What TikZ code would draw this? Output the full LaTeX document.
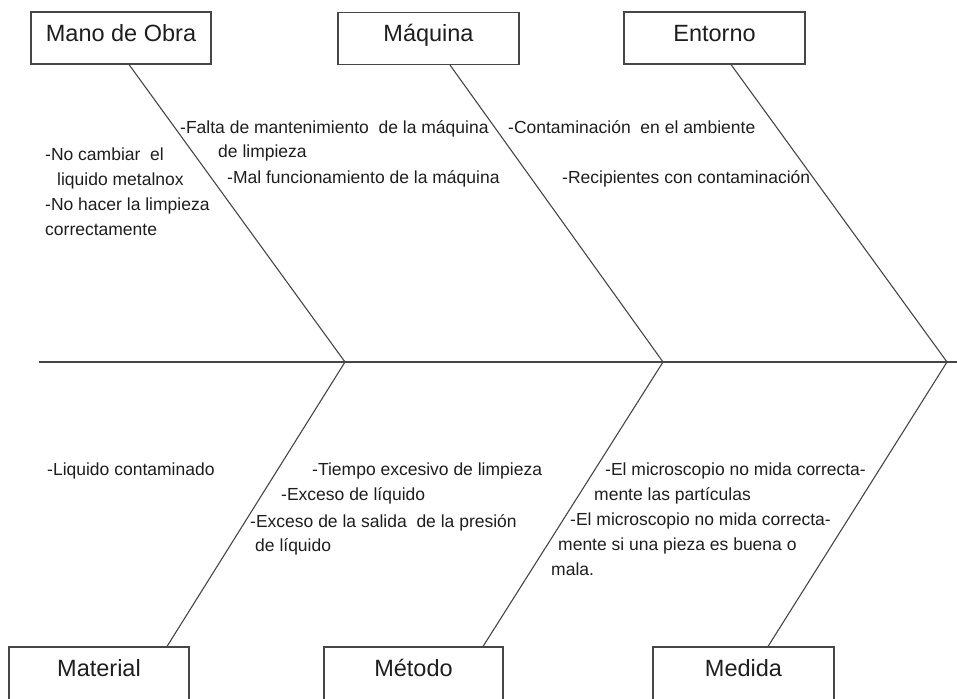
\documentclass[tikz,border=0pt]{standalone}
\usepackage{fontspec}
\setmainfont{Liberation Sans}
\usepackage{xcolor}
\definecolor{lineColor}{RGB}{70, 70, 70}
\definecolor{textColor}{RGB}{30, 30, 30}

\begin{document}
\begin{tikzpicture}[x=1pt, y=-1pt,
    categoria/.style={draw=lineColor, line width=1.1pt, minimum width=180pt, minimum height=52pt,
        inner sep=0pt, text height=17pt, text depth=10pt, text=textColor,
        font=\fontsize{23.5}{28}\selectfont},
    categoriaInf/.style={categoria, minimum height=70pt, text depth=28pt},
    causa/.style={anchor=base west, inner sep=0pt, text=textColor, font=\fontsize{17.5}{21}\selectfont},
    espina/.style={draw=lineColor, line width=1.1pt}]
    \clip (0,0) rectangle (957,698);

    % Spine and joints
    \coordinate (cola) at (39,362);
    \coordinate (cabeza) at (957,362);
    \coordinate (J1) at (345,362);
    \coordinate (J2) at (663,362);
    \coordinate (J3) at (947,362);
    \draw[espina] (cola) -- (cabeza);

    % Categories (bottom ones run off the page)
    \node[categoria] (mano) at (121,38) {Mano de Obra};
    \node[categoria, minimum width=181pt] (maquina) at (428.5,38.5) {Máquina};
    \node[categoria, minimum width=181pt] (entorno) at (714.5,38) {Entorno};
    \node[categoriaInf] (material) at (99,682) {Material};
    \node[categoriaInf, minimum width=179pt] (metodo) at (413.5,682) {Método};
    \node[categoriaInf, minimum width=181pt] (medida) at (743.5,682) {Medida};

    % Bones
    \draw[espina] ([xshift=8pt]mano.south) -- (J1);
    \draw[espina] ([xshift=21.5pt]maquina.south) -- (J2);
    \draw[espina] ([xshift=16.5pt]entorno.south) -- (J3);
    \draw[espina] ([xshift=68pt]material.north) -- (J1);
    \draw[espina] ([xshift=69.5pt]metodo.north) -- (J2);
    \draw[espina] ([xshift=24.5pt]medida.north) -- (J3);

    % Causes: Mano de Obra
    \node[causa] (mo1) at (45,160) {-No cambiar\ \ el};
    \node[causa] (mo2) at (57,185) {liquido metalnox};
    \node[causa] (mo3) at (45,210) {-No hacer la limpieza};
    \node[causa] (mo4) at (45,235) {correctamente};

    % Causes: Maquina
    \node[causa] (mq1) at (180,133) {-Falta de mantenimiento\ \ de la máquina};
    \node[causa] (mq2) at (218,157) {de limpieza};
    \node[causa] (mq3) at (227,183) {-Mal funcionamiento de la máquina};

    % Causes: Entorno
    \node[causa] (en1) at (508,133) {-Contaminación\ \ en el ambiente};
    \node[causa] (en2) at (562,183) {-Recipientes con contaminación};

    % Causes: Material
    \node[causa] (ma1) at (47,475) {-Liquido contaminado};

    % Causes: Metodo
    \node[causa] (me1) at (312,475) {-Tiempo excesivo de limpieza};
    \node[causa] (me2) at (281,500) {-Exceso de líquido};
    \node[causa] (me3) at (250,527) {-Exceso de la salida\ \ de la presión};
    \node[causa] (me4) at (255,551) {de líquido};

    % Causes: Medida
    \node[causa] (md1) at (605,475) {-El microscopio no mida correcta-};
    \node[causa] (md2) at (594,500) {mente las partículas};
    \node[causa] (md3) at (570,525) {-El microscopio no mida correcta-};
    \node[causa] (md4) at (558,550) {mente si una pieza es buena o};
    \node[causa] (md5) at (551,575) {mala.};
\end{tikzpicture}
\end{document}
